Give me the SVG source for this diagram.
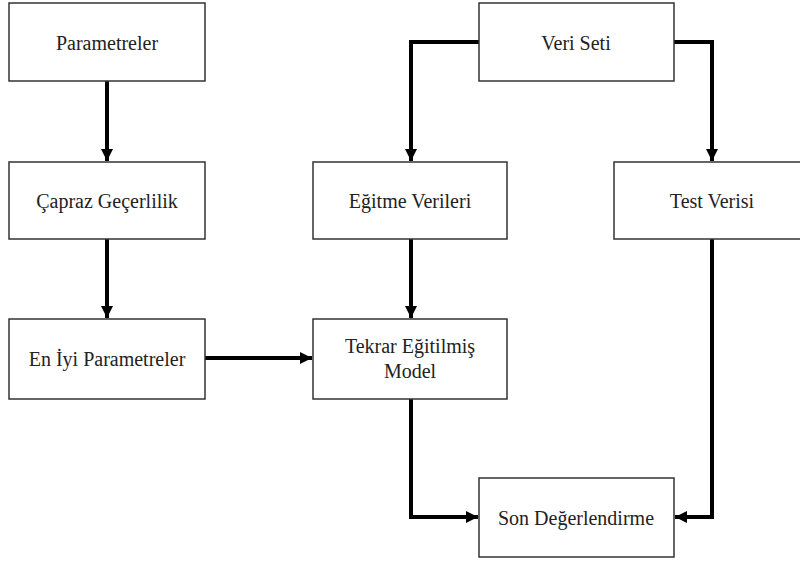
<svg xmlns="http://www.w3.org/2000/svg" width="800" height="563" viewBox="0 0 800 563">
<style>
.box{fill:#fff;stroke:#333;stroke-width:1.5}
.lbl{font-family:'Liberation Serif','DejaVu Serif',serif;font-size:20px;fill:#222;text-anchor:middle}
.edge{fill:none;stroke:#000;stroke-width:4;stroke-linejoin:miter}
</style>
<defs>
<marker id="ah" viewBox="0 0 10 10" refX="10" refY="5" markerWidth="3" markerHeight="3" markerUnits="strokeWidth" orient="auto">
<path d="M0,0 L10,5 L0,10 z" fill="#000"/>
</marker>
</defs>
<rect width="800" height="563" fill="#fff"/>
<g id="connectors">
<path class="edge" d="M107,81 V161" marker-end="url(#ah)"/>
<path class="edge" d="M107,239 V318" marker-end="url(#ah)"/>
<path class="edge" d="M479,42 H411 V161" marker-end="url(#ah)"/>
<path class="edge" d="M674,42 H712 V161" marker-end="url(#ah)"/>
<path class="edge" d="M411,239 V318" marker-end="url(#ah)"/>
<path class="edge" d="M205,358 H312" marker-end="url(#ah)"/>
<path class="edge" d="M411,399 V517 H478" marker-end="url(#ah)"/>
<path class="edge" d="M712,239 V517 H675" marker-end="url(#ah)"/>
</g>
<g id="parametreler"><rect class="box" x="9" y="3" width="196" height="78"/><text class="lbl" x="107" y="50">Parametreler</text></g>
<g id="capraz"><rect class="box" x="9" y="162" width="196" height="77"/><text class="lbl" x="107" y="208">Çapraz Geçerlilik</text></g>
<g id="eniyi"><rect class="box" x="9" y="319" width="196" height="80"/><text class="lbl" x="107" y="366">En İyi Parametreler</text></g>
<g id="veriseti"><rect class="box" x="479" y="3" width="195" height="78"/><text class="lbl" x="576" y="50">Veri Seti</text></g>
<g id="egitme"><rect class="box" x="313" y="162" width="194" height="77"/><text class="lbl" x="410" y="208">Eğitme Verileri</text></g>
<g id="test"><rect class="box" x="614" y="162" width="196" height="77"/><text class="lbl" x="712" y="208">Test Verisi</text></g>
<g id="tekrar"><rect class="box" x="313" y="319" width="194" height="80"/><text class="lbl" x="410" y="353">Tekrar Eğitilmiş</text><text class="lbl" x="410" y="378">Model</text></g>
<g id="son"><rect class="box" x="479" y="478" width="195" height="79"/><text class="lbl" x="576" y="525">Son Değerlendirme</text></g>
</svg>
